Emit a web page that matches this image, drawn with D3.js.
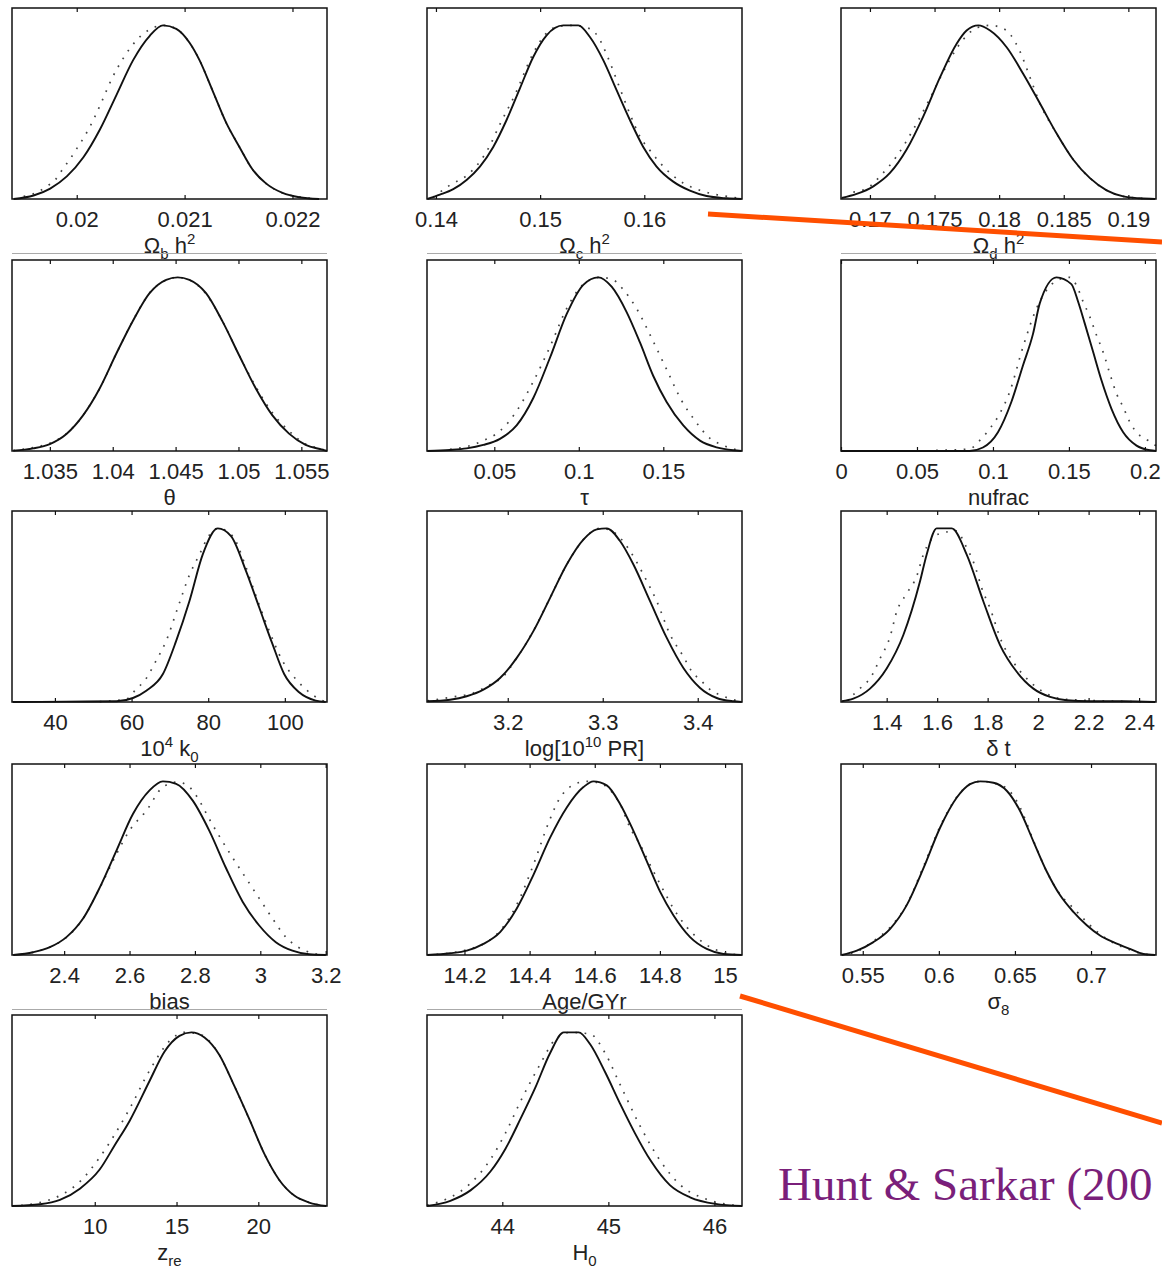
<!DOCTYPE html>
<html>
<head>
<meta charset="utf-8">
<script src="https://cdn.jsdelivr.net/npm/d3@7"></script>
<style>
  html, body { margin: 0; padding: 0; background: #fff; }
  svg { display: block; }
</style>
</head>
<body>
<div id="chart"></div>
<script>
// Marginalised 1-D posteriors, solid = marginal, dotted = mean likelihood
// Each curve is a list of [value, relative probability]

// Omega_b h^2
const obhDomain = [0.0194, 0.02232];
const obhTicks = ["0.02", "0.021", "0.022"];
const obhSolid = [[0.019415,0],[0.0196,0.02],[0.019754,0.06],[0.019908,0.13],[0.020062,0.24],[0.020215,0.40],[0.020369,0.60],[0.020523,0.80],[0.020677,0.94],[0.0208,1.0],[0.020923,0.98],[0.021046,0.90],[0.021138,0.80],[0.021262,0.62],[0.021385,0.44],[0.021508,0.30],[0.02163,0.17],[0.021754,0.09],[0.021908,0.035],[0.022062,0.01],[0.022246,0]];
const obhDotted = [[0.019508,0.015],[0.019631,0.038],[0.019723,0.073],[0.0198,0.11],[0.019877,0.178],[0.019938,0.23],[0.02,0.29],[0.020062,0.35],[0.020154,0.455],[0.020231,0.56],[0.020323,0.69],[0.020431,0.81],[0.020554,0.914],[0.020723,0.99],[0.0208,1.0],[0.020923,0.98],[0.021046,0.90],[0.021138,0.80],[0.021262,0.62],[0.021385,0.44],[0.021508,0.30],[0.02163,0.17],[0.021754,0.09],[0.021908,0.035],[0.022062,0.012],[0.022246,0]];

// Omega_c h^2
const ochDomain = [0.13914, 0.16938];
const ochTicks = ["0.14", "0.15", "0.16"];
const ochSolid = [[0.13917,0],[0.14038,0.025],[0.14166,0.057],[0.14294,0.11],[0.14422,0.187],[0.1455,0.30],[0.14678,0.455],[0.14806,0.637],[0.14934,0.818],[0.15062,0.943],[0.15222,1.0],[0.15366,1.0],[0.15478,0.933],[0.15606,0.80],[0.15734,0.627],[0.15862,0.455],[0.1599,0.30],[0.16118,0.187],[0.16278,0.10],[0.16438,0.048],[0.16598,0.017],[0.1679,0.004],[0.16934,0]];
const ochDotted = [[0.13974,0.01],[0.14134,0.08],[0.14326,0.15],[0.14502,0.29],[0.14614,0.43],[0.14758,0.60],[0.14934,0.84],[0.15062,0.956],[0.1519,0.996],[0.15318,1.0],[0.15478,0.98],[0.15558,0.933],[0.15654,0.81],[0.15766,0.637],[0.15862,0.49],[0.15958,0.36],[0.16054,0.28],[0.16214,0.168],[0.16374,0.092],[0.16534,0.05],[0.16694,0.025],[0.16854,0.01],[0.16934,0]];

// Omega_d h^2
const odhDomain = [0.16776, 0.19214];
const odhTicks = ["0.17", "0.175", "0.18", "0.185", "0.19"];
const odhSolid = [[0.16781,0.006],[0.16897,0.029],[0.17026,0.073],[0.17155,0.15],[0.17284,0.285],[0.17413,0.476],[0.17542,0.70],[0.17671,0.894],[0.17748,0.97],[0.17839,1.0],[0.1793,0.97],[0.18058,0.874],[0.18187,0.72],[0.18316,0.55],[0.18445,0.377],[0.18574,0.226],[0.18703,0.12],[0.18832,0.05],[0.18961,0.015],[0.1909,0.004],[0.19206,0]];
const odhDotted = [[0.16871,0.04],[0.16974,0.06],[0.1709,0.14],[0.17206,0.245],[0.17335,0.40],[0.17465,0.58],[0.17594,0.77],[0.17723,0.92],[0.17826,0.985],[0.1793,1.0],[0.18006,0.99],[0.18084,0.95],[0.18161,0.85],[0.18239,0.70],[0.18316,0.55],[0.18445,0.377],[0.18574,0.226],[0.18703,0.12],[0.18832,0.05],[0.18961,0.015],[0.1909,0.004],[0.19206,0]];

// theta
const thetaDomain = [1.03199, 1.05704];
const thetaTicks = ["1.035", "1.04", "1.045", "1.05", "1.055"];
const thetaSolid = [[1.03209,0.002],[1.03368,0.015],[1.035,0.04],[1.03632,0.098],[1.03764,0.205],[1.03896,0.36],[1.04028,0.56],[1.0416,0.749],[1.04293,0.909],[1.04425,0.986],[1.04517,1.0],[1.0461,0.986],[1.04742,0.909],[1.04874,0.745],[1.05006,0.55],[1.05138,0.36],[1.0527,0.205],[1.05402,0.10],[1.05534,0.035],[1.05666,0.008],[1.05704,0]];
const thetaDotted = [[1.03209,0.003],[1.03368,0.02],[1.035,0.045],[1.03632,0.10],[1.03764,0.205],[1.03896,0.36],[1.04028,0.56],[1.0416,0.75],[1.04293,0.91],[1.04425,0.985],[1.04517,1.0],[1.0461,0.985],[1.04742,0.905],[1.04874,0.745],[1.05006,0.55],[1.05138,0.37],[1.0527,0.22],[1.05402,0.115],[1.05534,0.04],[1.05666,0.01],[1.05704,0]];

// tau
const tauDomain = [0.01018, 0.19657];
const tauTicks = ["0.05", "0.1", "0.15"];
const tauSolid = [[0.01036,0],[0.02377,0.006],[0.03363,0.015],[0.04349,0.035],[0.05335,0.07],[0.06321,0.147],[0.07308,0.305],[0.08294,0.537],[0.0928,0.788],[0.10266,0.957],[0.11154,1.0],[0.11943,0.946],[0.1283,0.80],[0.13619,0.625],[0.14408,0.432],[0.15197,0.282],[0.16183,0.147],[0.1717,0.06],[0.18156,0.021],[0.19142,0.004],[0.19635,0]];
const tauDotted = [[0.02377,0.01],[0.03363,0.025],[0.04349,0.06],[0.05335,0.115],[0.06321,0.23],[0.07308,0.40],[0.08294,0.60],[0.0928,0.82],[0.10266,0.96],[0.11252,1.0],[0.12041,0.985],[0.1263,0.93],[0.13422,0.82],[0.14408,0.63],[0.15197,0.47],[0.16085,0.29],[0.16874,0.175],[0.17761,0.073],[0.18353,0.04],[0.19142,0.012],[0.19635,0]];

// nufrac
const nufracDomain = [0, 0.2073];
const nufracTicks = ["0", "0.05", "0.1", "0.15", "0.2"];
const nufracSolid = [[0,0],[0.0538,0],[0.0846,0],[0.0934,0.02],[0.1033,0.108],[0.1121,0.282],[0.1198,0.494],[0.1264,0.676],[0.1308,0.85],[0.1418,1.0],[0.1516,0.961],[0.156,0.861],[0.1604,0.735],[0.1659,0.571],[0.1714,0.407],[0.178,0.243],[0.1857,0.108],[0.1945,0.031],[0.2033,0.004],[0.2073,0]];
const nufracDotted = [[0.0626,0.004],[0.0846,0.012],[0.0912,0.06],[0.0978,0.127],[0.1044,0.214],[0.111,0.34],[0.1198,0.6],[0.1286,0.82],[0.1418,0.98],[0.1505,1.0],[0.1549,0.955],[0.1593,0.86],[0.1637,0.774],[0.1681,0.668],[0.1725,0.57],[0.1769,0.446],[0.1813,0.33],[0.1857,0.253],[0.1901,0.166],[0.1956,0.098],[0.2022,0.06],[0.2073,0.03]];

// 10^4 k_0
const k0Domain = [28.8, 111];
const k0Ticks = ["40", "60", "80", "100"];
const k0Solid = [[28.99,0],[43.03,0.002],[56.04,0.004],[60.37,0.023],[63.84,0.065],[68.18,0.161],[71.64,0.352],[75.11,0.582],[78.58,0.85],[82.48,1.0],[85.95,0.956],[89.85,0.755],[93.32,0.544],[96.78,0.333],[99.82,0.161],[103.72,0.056],[108.05,0.008],[110.65,0]];
const k0Dotted = [[51.7,0.002],[58.64,0.017],[61.24,0.075],[63.41,0.123],[66.44,0.239],[69.04,0.352],[72.08,0.544],[75.11,0.732],[77.71,0.849],[80.31,0.962],[82.48,1.0],[86.38,0.956],[89.41,0.803],[92.45,0.611],[95.92,0.41],[99.38,0.237],[102.85,0.132],[107.19,0.042],[110.65,0]];

// log[10^10 PR]
const prDomain = [3.115, 3.4466];
const prTicks = ["3.2", "3.3", "3.4"];
const prSolid = [[3.1154,0.004],[3.1393,0.013],[3.1568,0.033],[3.1744,0.071],[3.1919,0.138],[3.2095,0.254],[3.227,0.408],[3.2446,0.6],[3.2621,0.792],[3.2796,0.935],[3.2937,0.994],[3.3042,1.0],[3.3182,0.927],[3.3323,0.792],[3.3498,0.581],[3.3674,0.369],[3.3849,0.196],[3.4025,0.081],[3.42,0.023],[3.4375,0.004],[3.4463,0]];
const prDotted = [[3.1154,0.006],[3.1393,0.027],[3.1639,0.052],[3.1814,0.10],[3.1954,0.148],[3.2095,0.254],[3.227,0.41],[3.2446,0.6],[3.2621,0.792],[3.2796,0.935],[3.2972,1.0],[3.3077,0.99],[3.3182,0.946],[3.3288,0.869],[3.3446,0.715],[3.3568,0.581],[3.3709,0.388],[3.3849,0.262],[3.3937,0.177],[3.4042,0.119],[3.413,0.071],[3.427,0.033],[3.4463,0]];

// delta t
const dtDomain = [1.219, 2.467];
const dtTicks = ["1.4", "1.6", "1.8", "2", "2.2", "2.4"];
const dtSolid = [[1.2217,0.004],[1.2679,0.019],[1.334,0.077],[1.4,0.193],[1.466,0.386],[1.5321,0.695],[1.5585,0.85],[1.5982,1.0],[1.6576,1.0],[1.717,0.849],[1.7831,0.579],[1.8491,0.328],[1.9152,0.174],[1.9812,0.077],[2.0473,0.029],[2.1133,0.01],[2.2058,0.004],[2.3379,0.004],[2.4634,0]];
const dtDotted = [[1.2679,0.042],[1.3009,0.087],[1.334,0.135],[1.3736,0.25],[1.4132,0.375],[1.4396,0.52],[1.4793,0.625],[1.5189,0.724],[1.5453,0.849],[1.5717,0.927],[1.6114,0.97],[1.6774,0.985],[1.7104,0.907],[1.75,0.782],[1.7765,0.656],[1.8095,0.54],[1.8558,0.347],[1.902,0.23],[1.968,0.116],[2.0209,0.058],[2.1133,0.015],[2.4634,0]];

// bias
const biasDomain = [2.2405, 3.204];
const biasTicks = ["2.4", "2.6", "2.8", "3", "3.2"];
const biasSolid = [[2.2445,0],[2.3055,0.016],[2.3563,0.045],[2.4071,0.103],[2.4579,0.21],[2.5088,0.388],[2.5596,0.60],[2.6104,0.812],[2.6612,0.948],[2.7019,1.0],[2.7426,0.986],[2.7934,0.889],[2.8442,0.715],[2.895,0.501],[2.9459,0.307],[2.9967,0.17],[3.0475,0.074],[3.0983,0.025],[3.1492,0.004],[3.2,0]];
const biasDotted = [[2.2445,0],[2.3563,0.045],[2.4579,0.21],[2.5088,0.385],[2.5596,0.58],[2.6003,0.718],[2.6511,0.83],[2.7019,0.967],[2.7477,0.996],[2.7832,0.967],[2.8137,0.889],[2.8391,0.80],[2.8696,0.70],[2.9154,0.56],[2.956,0.443],[2.9967,0.326],[3.0374,0.21],[3.078,0.103],[3.1085,0.054],[3.1492,0.016],[3.2,0]];

// Age/GYr
const ageDomain = [14.085, 15.052];
const ageTicks = ["14.2", "14.4", "14.6", "14.8", "15"];
const ageSolid = [[14.0864,0],[14.156,0.01],[14.2072,0.025],[14.2583,0.064],[14.3095,0.132],[14.3606,0.268],[14.4118,0.462],[14.4629,0.676],[14.5141,0.85],[14.5652,0.967],[14.5959,1.0],[14.6368,0.977],[14.6777,0.87],[14.7187,0.715],[14.7596,0.54],[14.8005,0.365],[14.8414,0.229],[14.8926,0.103],[14.9437,0.035],[14.9949,0.006],[15.0512,0]];
const ageDotted = [[14.0864,0],[14.2072,0.03],[14.3095,0.14],[14.3606,0.29],[14.4118,0.52],[14.4578,0.76],[14.4885,0.89],[14.5345,0.98],[14.5754,1.0],[14.6164,0.99],[14.647,0.95],[14.6777,0.87],[14.7084,0.733],[14.7391,0.636],[14.7698,0.52],[14.8107,0.373],[14.8414,0.268],[14.8823,0.161],[14.9386,0.064],[15.0,0.012],[15.0512,0]];

// sigma_8
const sig8Domain = [0.5357, 0.7427];
const sig8Ticks = ["0.55", "0.6", "0.65", "0.7"];
const sig8Solid = [[0.5362,0],[0.5461,0.025],[0.557,0.074],[0.568,0.151],[0.5789,0.287],[0.5899,0.50],[0.6008,0.733],[0.6118,0.907],[0.6205,0.984],[0.6271,1.0],[0.6359,0.992],[0.6446,0.946],[0.6534,0.829],[0.6621,0.655],[0.6709,0.481],[0.6796,0.345],[0.6884,0.248],[0.6972,0.171],[0.7059,0.112],[0.7147,0.074],[0.7256,0.035],[0.7344,0.006],[0.742,0]];
const sig8Dotted = [[0.5362,0],[0.5461,0.02],[0.557,0.08],[0.568,0.16],[0.5789,0.29],[0.5899,0.51],[0.6008,0.74],[0.6118,0.91],[0.6205,0.985],[0.6271,1.0],[0.6359,0.99],[0.6446,0.96],[0.6534,0.85],[0.6621,0.66],[0.6709,0.48],[0.6796,0.35],[0.6884,0.27],[0.6972,0.19],[0.7059,0.12],[0.7147,0.07],[0.7256,0.03],[0.7344,0.006],[0.742,0]];

// z_re
const zreDomain = [4.94, 24.2];
const zreTicks = ["10", "15", "20"];
const zreSolid = [[4.94,0],[6.65,0.01],[7.87,0.035],[9.09,0.1],[10.3,0.21],[11.22,0.35],[12.13,0.49],[13.35,0.72],[14.27,0.89],[15.18,0.98],[15.91,1.0],[16.71,0.97],[17.62,0.87],[18.54,0.69],[19.45,0.5],[20.37,0.3],[21.28,0.15],[22.2,0.06],[23.11,0.02],[24.15,0]];
const zreDotted = [[4.94,0],[6.65,0.02],[7.87,0.06],[9.09,0.14],[10.3,0.28],[12.13,0.56],[13.35,0.78],[14.57,0.95],[15.49,1.0],[16.4,0.99],[17.62,0.87],[18.54,0.69],[19.45,0.5],[20.37,0.3],[21.28,0.15],[22.2,0.06],[23.11,0.02],[24.15,0]];

// H_0
const h0Domain = [43.29, 46.26];
const h0Ticks = ["44", "45", "46"];
const h0Solid = [[43.29,0],[43.51,0.03],[43.7,0.09],[43.89,0.2],[44.03,0.33],[44.17,0.5],[44.31,0.68],[44.45,0.88],[44.58,1.0],[44.72,1.0],[44.83,0.93],[44.97,0.77],[45.11,0.59],[45.25,0.42],[45.4,0.26],[45.58,0.12],[45.77,0.05],[46.01,0.012],[46.26,0]];
const h0Dotted = [[43.29,0.005],[43.51,0.05],[43.7,0.13],[43.89,0.27],[44.03,0.42],[44.17,0.6],[44.36,0.82],[44.5,0.96],[44.64,1.0],[44.83,0.99],[44.97,0.88],[45.11,0.7],[45.3,0.46],[45.49,0.26],[45.68,0.12],[45.92,0.04],[46.26,0]];

// axis titles, as [text, "sub" | "sup" | undefined] segments
const obhLabel = [["Ω"], ["b", "sub"], [" h"], ["2", "sup"]];
const ochLabel = [["Ω"], ["c", "sub"], [" h"], ["2", "sup"]];
const odhLabel = [["Ω"], ["d", "sub"], [" h"], ["2", "sup"]];
const thetaLabel = [["θ"]];
const tauLabel = [["τ"]];
const nufracLabel = [["nufrac"]];
const k0Label = [["10"], ["4", "sup"], [" k"], ["0", "sub"]];
const prLabel = [["log[10"], ["10", "sup"], [" PR]"]];
const dtLabel = [["δ t"]];
const biasLabel = [["bias"]];
const ageLabel = [["Age/GYr"]];
const sig8Label = [["σ"], ["8", "sub"]];
const zreLabel = [["z"], ["re", "sub"]];
const h0Label = [["H"], ["0", "sub"]];

const citation = "Hunt & Sarkar (200";

////////////////////////////////
// Layout
const W = 1162, H = 1271;
const colLeft = [12, 427, 841];
const rowTop = [8, 260, 511, 764, 1015];
const pw = 315, ph = 191;
const fontSans = "'Liberation Sans', Arial, Helvetica, sans-serif";

const panels = [
  { domain: obhDomain, ticks: obhTicks, solid: obhSolid, dotted: obhDotted, label: obhLabel },
  { domain: ochDomain, ticks: ochTicks, solid: ochSolid, dotted: ochDotted, label: ochLabel },
  { domain: odhDomain, ticks: odhTicks, solid: odhSolid, dotted: odhDotted, label: odhLabel },
  { domain: thetaDomain, ticks: thetaTicks, solid: thetaSolid, dotted: thetaDotted, label: thetaLabel },
  { domain: tauDomain, ticks: tauTicks, solid: tauSolid, dotted: tauDotted, label: tauLabel },
  { domain: nufracDomain, ticks: nufracTicks, solid: nufracSolid, dotted: nufracDotted, label: nufracLabel },
  { domain: k0Domain, ticks: k0Ticks, solid: k0Solid, dotted: k0Dotted, label: k0Label },
  { domain: prDomain, ticks: prTicks, solid: prSolid, dotted: prDotted, label: prLabel },
  { domain: dtDomain, ticks: dtTicks, solid: dtSolid, dotted: dtDotted, label: dtLabel },
  { domain: biasDomain, ticks: biasTicks, solid: biasSolid, dotted: biasDotted, label: biasLabel },
  { domain: ageDomain, ticks: ageTicks, solid: ageSolid, dotted: ageDotted, label: ageLabel },
  { domain: sig8Domain, ticks: sig8Ticks, solid: sig8Solid, dotted: sig8Dotted, label: sig8Label },
  { domain: zreDomain, ticks: zreTicks, solid: zreSolid, dotted: zreDotted, label: zreLabel },
  { domain: h0Domain, ticks: h0Ticks, solid: h0Solid, dotted: h0Dotted, label: h0Label },
];

var svg = d3
  .select("#chart")
  .append("svg")
  .attr("width", W)
  .attr("height", H);

svg.append("rect").attr("width", W).attr("height", H).attr("fill", "#fff");

////////////////////////////////
// Draw one panel per parameter
panels.forEach(function (p, i) {
  const col = i % 3;
  const row = Math.floor(i / 3);
  const g = svg
    .append("g")
    .attr("transform", "translate(" + colLeft[col] + "," + rowTop[row] + ")");

  const x = d3.scaleLinear().domain(p.domain).range([0, pw]);
  const y = d3.scaleLinear().domain([0, 1.1]).range([ph, 0]);
  const tickVals = p.ticks.map(Number);

  // bottom ticks + labels (ticks point inward)
  const bottom = g
    .append("g")
    .attr("transform", "translate(0," + ph + ")")
    .call(
      d3
        .axisBottom(x)
        .tickValues(tickVals)
        .tickSize(-4)
        .tickPadding(12)
        .tickFormat(function (d, k) {
          return p.ticks[k];
        })
    );
  bottom.select(".domain").remove();
  bottom
    .selectAll("text")
    .attr("font-family", fontSans)
    .attr("font-size", 22)
    .attr("fill", "#222");
  bottom.selectAll("line").attr("stroke", "#111").attr("stroke-width", 1.2);

  // top ticks only
  const top = g
    .append("g")
    .call(d3.axisTop(x).tickValues(tickVals).tickSize(-4).tickFormat(""));
  top.select(".domain").remove();
  top.selectAll("line").attr("stroke", "#111").attr("stroke-width", 1.2);

  const line = d3
    .line()
    .x(function (d) {
      return x(d[0]);
    })
    .y(function (d) {
      return y(d[1]);
    })
    .curve(d3.curveMonotoneX);

  g.append("path")
    .datum(p.dotted)
    .attr("fill", "none")
    .attr("stroke", "#444")
    .attr("stroke-width", 1.7)
    .attr("stroke-dasharray", "1.7 7.5")
    .attr("d", line);

  g.append("path")
    .datum(p.solid)
    .attr("fill", "none")
    .attr("stroke", "#111")
    .attr("stroke-width", 1.9)
    .attr("stroke-linejoin", "round")
    .attr("d", line);

  // frame
  g.append("rect")
    .attr("width", pw)
    .attr("height", ph)
    .attr("fill", "none")
    .attr("stroke", "#111")
    .attr("stroke-width", 1.5);

  // axis title with sub/superscripts
  const title = g
    .append("text")
    .attr("x", pw / 2)
    .attr("y", ph + 54)
    .attr("text-anchor", "middle")
    .attr("font-family", fontSans)
    .attr("font-size", 22)
    .attr("fill", "#222");
  let shift = 0;
  p.label.forEach(function (seg) {
    const target = seg[1] === "sup" ? -9 : seg[1] === "sub" ? 6 : 0;
    title
      .append("tspan")
      .attr("dy", target - shift)
      .attr("font-size", seg[1] ? 15 : 22)
      .text(seg[0]);
    shift = target;
  });
});

////////////////////////////////
// Thin grey rules under some rows
[[0, 0], [1, 0], [2, 0], [0, 3], [1, 3]].forEach(function (cr) {
  const yy = rowTop[cr[1]] + ph + 54.5;
  svg
    .append("line")
    .attr("x1", colLeft[cr[0]])
    .attr("x2", colLeft[cr[0]] + pw)
    .attr("y1", yy)
    .attr("y2", yy)
    .attr("stroke", "#aaa")
    .attr("stroke-width", 1);
});

// Orange pointer lines
[[708, 214, 1162, 242], [740, 996, 1162, 1123]].forEach(function (l) {
  svg
    .append("line")
    .attr("x1", l[0])
    .attr("y1", l[1])
    .attr("x2", l[2])
    .attr("y2", l[3])
    .attr("stroke", "#ff4f00")
    .attr("stroke-width", 5);
});

svg
  .append("text")
  .attr("x", 778)
  .attr("y", 1200)
  .attr("font-family", "'Liberation Serif', 'Times New Roman', serif")
  .attr("font-size", 47)
  .attr("fill", "#7a1f7a")
  .text(citation);
</script>
</body>
</html>
